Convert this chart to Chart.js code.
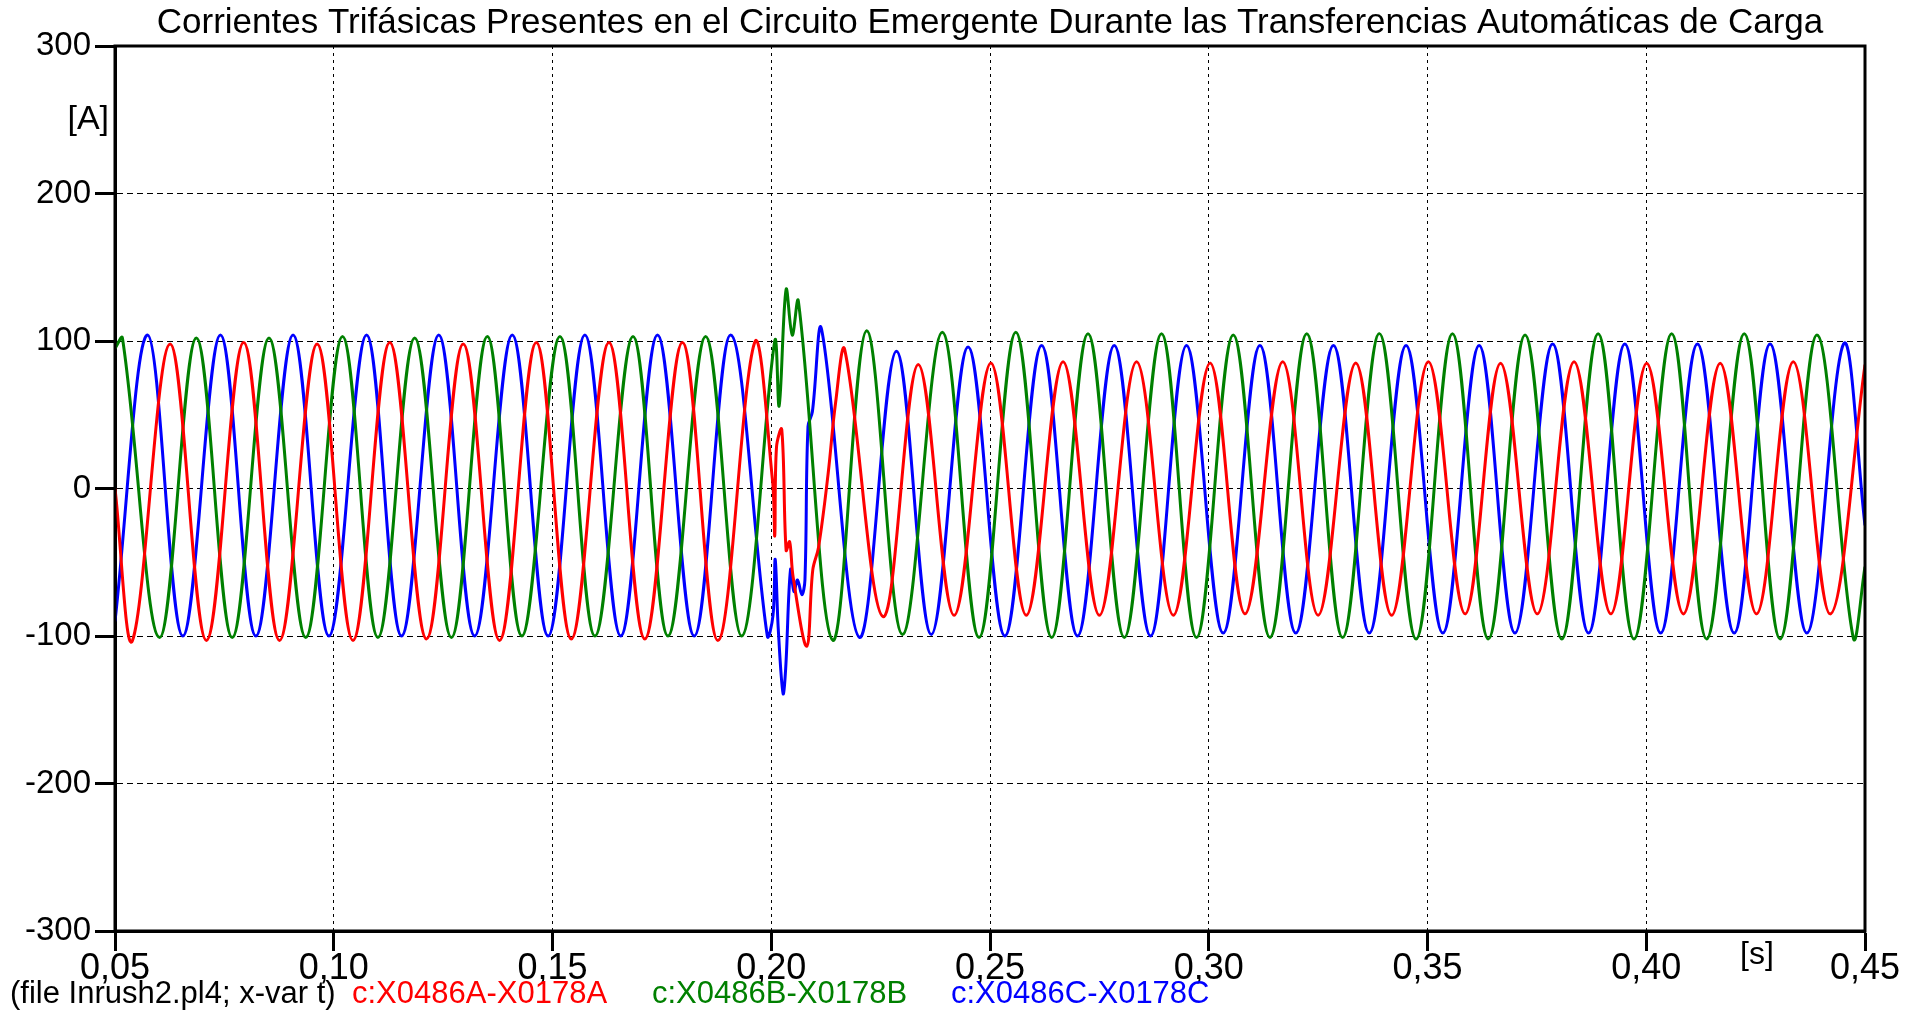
<!DOCTYPE html>
<html>
<head>
<meta charset="utf-8">
<script src="https://cdn.jsdelivr.net/npm/chart.js@4.4.0/dist/chart.umd.min.js"></script>
<style>
html,body{margin:0;padding:0;background:#fff;overflow:hidden}
#wrap{width:1905px;height:1010px;position:relative;background:#fff}
</style>
</head>
<body>
<div id="wrap"><canvas id="c" width="1905" height="1010"></canvas></div>
<script>
// ---------- text ----------
const chartTitle = 'Corrientes Trifásicas Presentes en el Circuito Emergente Durante las Transferencias Automáticas de Carga';
const fileNote = '(file Inrush2.pl4; x-var t)';
const seriesNames = ['c:X0486A-X0178A', 'c:X0486B-X0178B', 'c:X0486C-X0178C'];
const yUnit = '[A]';
const xUnit = '[s]';

// ---------- tick values ----------
const xTicks = [0.05, 0.10, 0.15, 0.20, 0.25, 0.30, 0.35, 0.40, 0.45];
const yTicks = [-300, -200, -100, 0, 100, 200, 300];

// ---------- phase A (red): time [s] and current [A] at the turning points ----------
const redT = [0.0500,0.0540,0.0626,0.0709,0.0794,0.0876,0.0962,0.1044,0.1128,0.1212,0.1296,0.1379,0.1463,0.1543,0.1629,0.1711,0.1797,0.1878,0.1962,
  0.2003,0.2008,0.2012,0.2024,0.2034,0.2042,0.2050,0.2081,0.2095,0.2108,0.2130,0.2147,0.2168,
  0.2256,0.2336,0.2418,0.2502,0.2583,0.2667,0.2750,0.2835,0.2919,0.3003,0.3083,0.3169,0.3250,0.3336,0.3418,0.3502,0.3586,0.3667,0.3751,0.3835,0.3919,0.4001,0.4085,0.4169,0.4252,0.4336,0.4420,0.4500];
const redA = [0,-103,98,-103,99,-103,98,-103,99,-102,98,-103,99,-102,99,-102,99,-103,99,
  5,-32,28,40,-42,-36,-60,-107,-55,-40,10,58,94,
  -87,84,-86,85,-86,86,-86,86,-86,85,-85,86,-86,85,-86,86,-85,85,-85,86,-85,85,-85,85,-85,86,-85,84];

// ---------- phase B (green) ----------
const greenT = [0.0500,0.0517,0.0602,0.0686,0.0768,0.0852,0.0936,0.1020,0.1101,0.1185,0.1269,0.1351,0.1430,0.1517,0.1597,0.1684,0.1764,0.1850,0.1932,
  0.2008,0.2018,0.2034,0.2048,0.2062,0.2141,0.2218,
  0.2300,0.2391,0.2475,0.2559,0.2641,0.2724,0.2807,0.2892,0.2972,0.3056,0.3140,0.3224,0.3306,0.3390,0.3474,0.3557,0.3639,0.3723,0.3807,0.3890,0.3972,0.4058,0.4138,0.4224,0.4306,0.4390,0.4473,0.4500];
const greenA = [95,102,-101,102,-101,102,-101,103,-101,102,-101,103,-100,103,-100,103,-100,103,-100,
  100,56,135,104,127,-103,107,
  -99,106,-101,106,-101,105,-101,105,-101,104,-101,105,-101,105,-102,105,-102,104,-102,105,-102,105,-102,105,-102,104,-101,-53];

// ---------- phase C (blue) ----------
const blueT = [0.0500,0.0575,0.0655,0.0741,0.0822,0.0907,0.0989,0.1075,0.1155,0.1240,0.1322,0.1408,0.1490,0.1574,0.1656,0.1740,0.1824,0.1907,0.1991,
  0.2004,0.2009,0.2016,0.2027,0.2033,0.2044,0.2052,0.2060,0.2070,0.2077,0.2084,0.2094,0.2115,
  0.2202,0.2286,0.2366,0.2450,0.2534,0.2618,0.2700,0.2784,0.2867,0.2949,0.3033,0.3117,0.3199,0.3285,0.3367,0.3451,0.3535,0.3618,0.3700,0.3786,0.3868,0.3951,0.4033,0.4117,0.4201,0.4283,0.4367,0.4451,0.4500];
const blueA = [-90,104,-100,104,-100,104,-100,104,-100,104,-100,104,-100,104,-100,104,-100,104,-100,
  -86,-48,-95,-139,-122,-55,-70,-62,-72,-62,42,52,108,
  -101,93,-99,96,-100,97,-100,97,-100,97,-98,97,-98,97,-98,97,-98,97,-98,98,-98,98,-98,98,-98,98,-98,98,-25];

// ---------- styling ----------
const FONT = '"Liberation Sans", Arial, Helvetica, sans-serif';
const colors = ['#ff0000', '#008000', '#0000ff'];
const legendX = [352, 652, 951];

function pts(ts, vs) { return ts.map((t, i) => ({ x: t, y: vs[i] })); }

const decor = {
  id: 'decor',
  afterDatasetsDraw(chart) {
    const { ctx, chartArea: a } = chart;
    ctx.save();
    ctx.strokeStyle = '#000';
    ctx.lineWidth = 3;
    ctx.strokeRect(a.left, a.top, a.right - a.left, a.bottom - a.top);
    ctx.restore();
  },
  afterDraw(chart) {
    const { ctx, chartArea: a } = chart;
    ctx.save();
    ctx.fillStyle = '#000';
    ctx.textBaseline = 'middle';
    ctx.font = '34px ' + FONT;
    ctx.textAlign = 'right';
    ctx.fillText(yUnit, a.left - 6, a.top + 74);
    ctx.font = '32px ' + FONT;
    ctx.textAlign = 'center';
    ctx.fillText(xUnit, a.right - 108, a.bottom + 24);
    ctx.textAlign = 'left';
    ctx.font = '31px ' + FONT;
    ctx.fillText(fileNote, 10, 994);
    chart.data.datasets.forEach((ds, i) => {
      ctx.fillStyle = ds.borderColor;
      ctx.fillText(ds.label, legendX[i], 994);
    });
    ctx.restore();
  }
};

Chart.defaults.font.family = FONT;
Chart.defaults.color = '#000';

new Chart(document.getElementById('c'), {
  type: 'line',
  data: {
    datasets: [
      { label: seriesNames[0], data: pts(redT, redA), borderColor: colors[0] },
      { label: seriesNames[1], data: pts(greenT, greenA), borderColor: colors[1] },
      { label: seriesNames[2], data: pts(blueT, blueA), borderColor: colors[2] }
    ]
  },
  options: {
    responsive: false,
    animation: false,
    devicePixelRatio: 1,
    parsing: false,
    layout: { padding: { left: 0, right: 40, top: 0, bottom: 0 } },
    elements: {
      point: { radius: 0, hoverRadius: 0 },
      line: { tension: 0.36, borderWidth: 3, fill: false, cubicInterpolationMode: 'default' }
    },
    plugins: {
      legend: { display: false },
      tooltip: { enabled: false },
      title: {
        display: true,
        text: chartTitle,
        fullSize: false,
        color: '#000',
        font: { size: 35, weight: 'normal', lineHeight: 1.2 },
        padding: { top: 2, bottom: 2 }
      }
    },
    scales: {
      x: {
        type: 'linear',
        min: 0.05,
        max: 0.45,
        afterBuildTicks: s => { s.ticks = xTicks.map(v => ({ value: v })); },
        afterFit: s => { s.height = 79; s.paddingLeft = 0; s.paddingRight = 0; },
        ticks: {
          autoSkip: false, maxRotation: 0, minRotation: 0,
          padding: -4,
          color: '#000',
          font: { size: 36 },
          callback: v => v.toFixed(2).replace('.', ',')
        },
        grid: { color: '#000', lineWidth: 1, drawTicks: true, tickLength: 20, tickColor: '#000', tickWidth: 3 },
        border: { display: true, color: '#000', width: 3, dash: [3, 4] }
      },
      y: {
        type: 'linear',
        min: -300,
        max: 300,
        afterBuildTicks: s => { s.ticks = yTicks.map(v => ({ value: v })); },
        afterFit: s => { s.width = 115; },
        ticks: {
          padding: 4,
          color: '#000',
          font: { size: 33 },
          callback: v => String(v)
        },
        grid: { color: '#000', lineWidth: 1, drawTicks: true, tickLength: 20, tickColor: '#000', tickWidth: 3 },
        border: { display: true, color: '#000', width: 3, dash: [6, 4] }
      }
    }
  },
  plugins: [decor]
});
</script>
</body>
</html>
